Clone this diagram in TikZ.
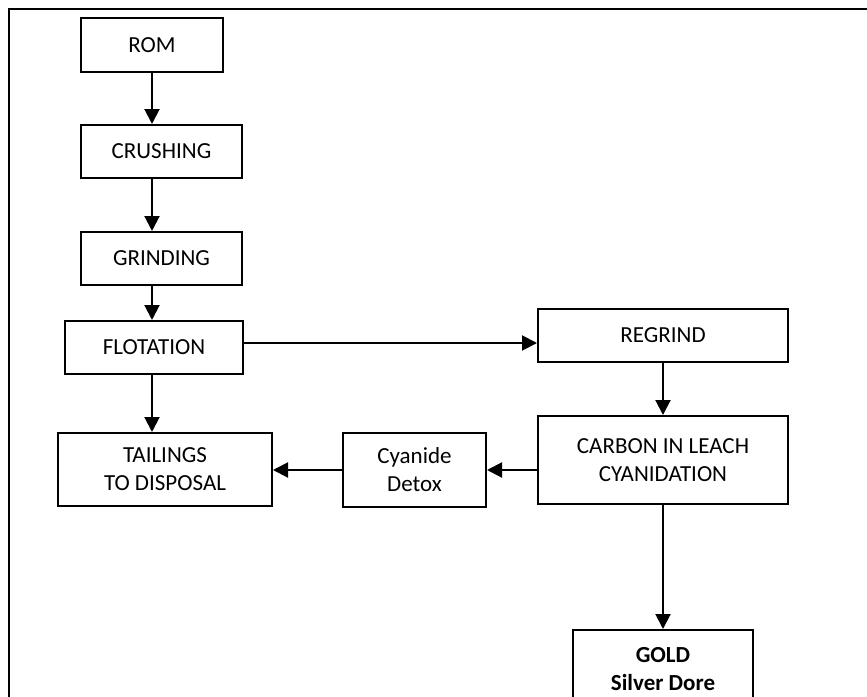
\documentclass[tikz,border=0pt]{standalone}
\usepackage{fontspec}
\setmainfont{Carlito}
\usetikzlibrary{arrows.meta}

\tikzset{
  stage/.style={draw, line width=2pt, align=center, inner sep=0pt,
    font=\fontsize{23}{28}\selectfont},
  flow/.style={->, line width=2pt}
}

\begin{document}
\begin{tikzpicture}[x=1pt,y=-1pt,>={Triangle[length=15pt,width=15pt]}]
\useasboundingbox (0,0) rectangle (867,696);
\clip (0,0) rectangle (867,696);
\draw[line width=1.6pt] (9,760) |- (900,9);

% left column
\node[stage, minimum width=142pt, minimum height=54pt] (rom) at (152,45) {ROM};
\node[stage, minimum width=161pt, minimum height=53pt] (crushing) at (161.5,151.5) {CRUSHING};
\node[stage, minimum width=161pt, minimum height=53pt] (grinding) at (161.5,258.5) {GRINDING};
\node[stage, minimum width=178pt, minimum height=53pt] (flotation) at (154,347.5) {FLOTATION};
\node[stage, minimum width=214pt, minimum height=73pt] (tailings) at (165,469.5) {TAILINGS\\TO DISPOSAL};

% right side
\node[stage, minimum width=143pt, minimum height=74pt] (detox) at (414.5,470) {Cyanide\\Detox};
\node[stage, minimum width=250pt, minimum height=53pt] (regrind) at (663,335.5) {REGRIND};
\node[stage, minimum width=250pt, minimum height=88pt] (carbon) at (663,460) {CARBON IN LEACH\\CYANIDATION};
\node[stage, minimum width=180pt, anchor=north, inner ysep=17pt,
  font=\fontsize{23}{28}\selectfont\bfseries] (gold) at (663,629) {GOLD\\Silver Dore};

\draw[flow] (rom.south) -- (crushing.north -| rom.south);
\draw[flow] (crushing.south -| rom.south) -- (grinding.north -| rom.south);
\draw[flow] (grinding.south -| rom.south) -- (flotation.north -| rom.south);
\draw[flow] (flotation.south -| rom.south) -- (tailings.north -| rom.south);
\draw[flow] ([yshift=4.5pt]flotation.east) -- ([yshift=4.5pt]flotation.east -| regrind.west);
\draw[flow] (regrind.south) -- (carbon.north);
\draw[flow] (carbon.west |- detox.east) -- (detox.east);
\draw[flow] (detox.west) -- (detox.west -| tailings.east);
\draw[flow] (carbon.south) -- (gold.north);
\end{tikzpicture}
\end{document}
